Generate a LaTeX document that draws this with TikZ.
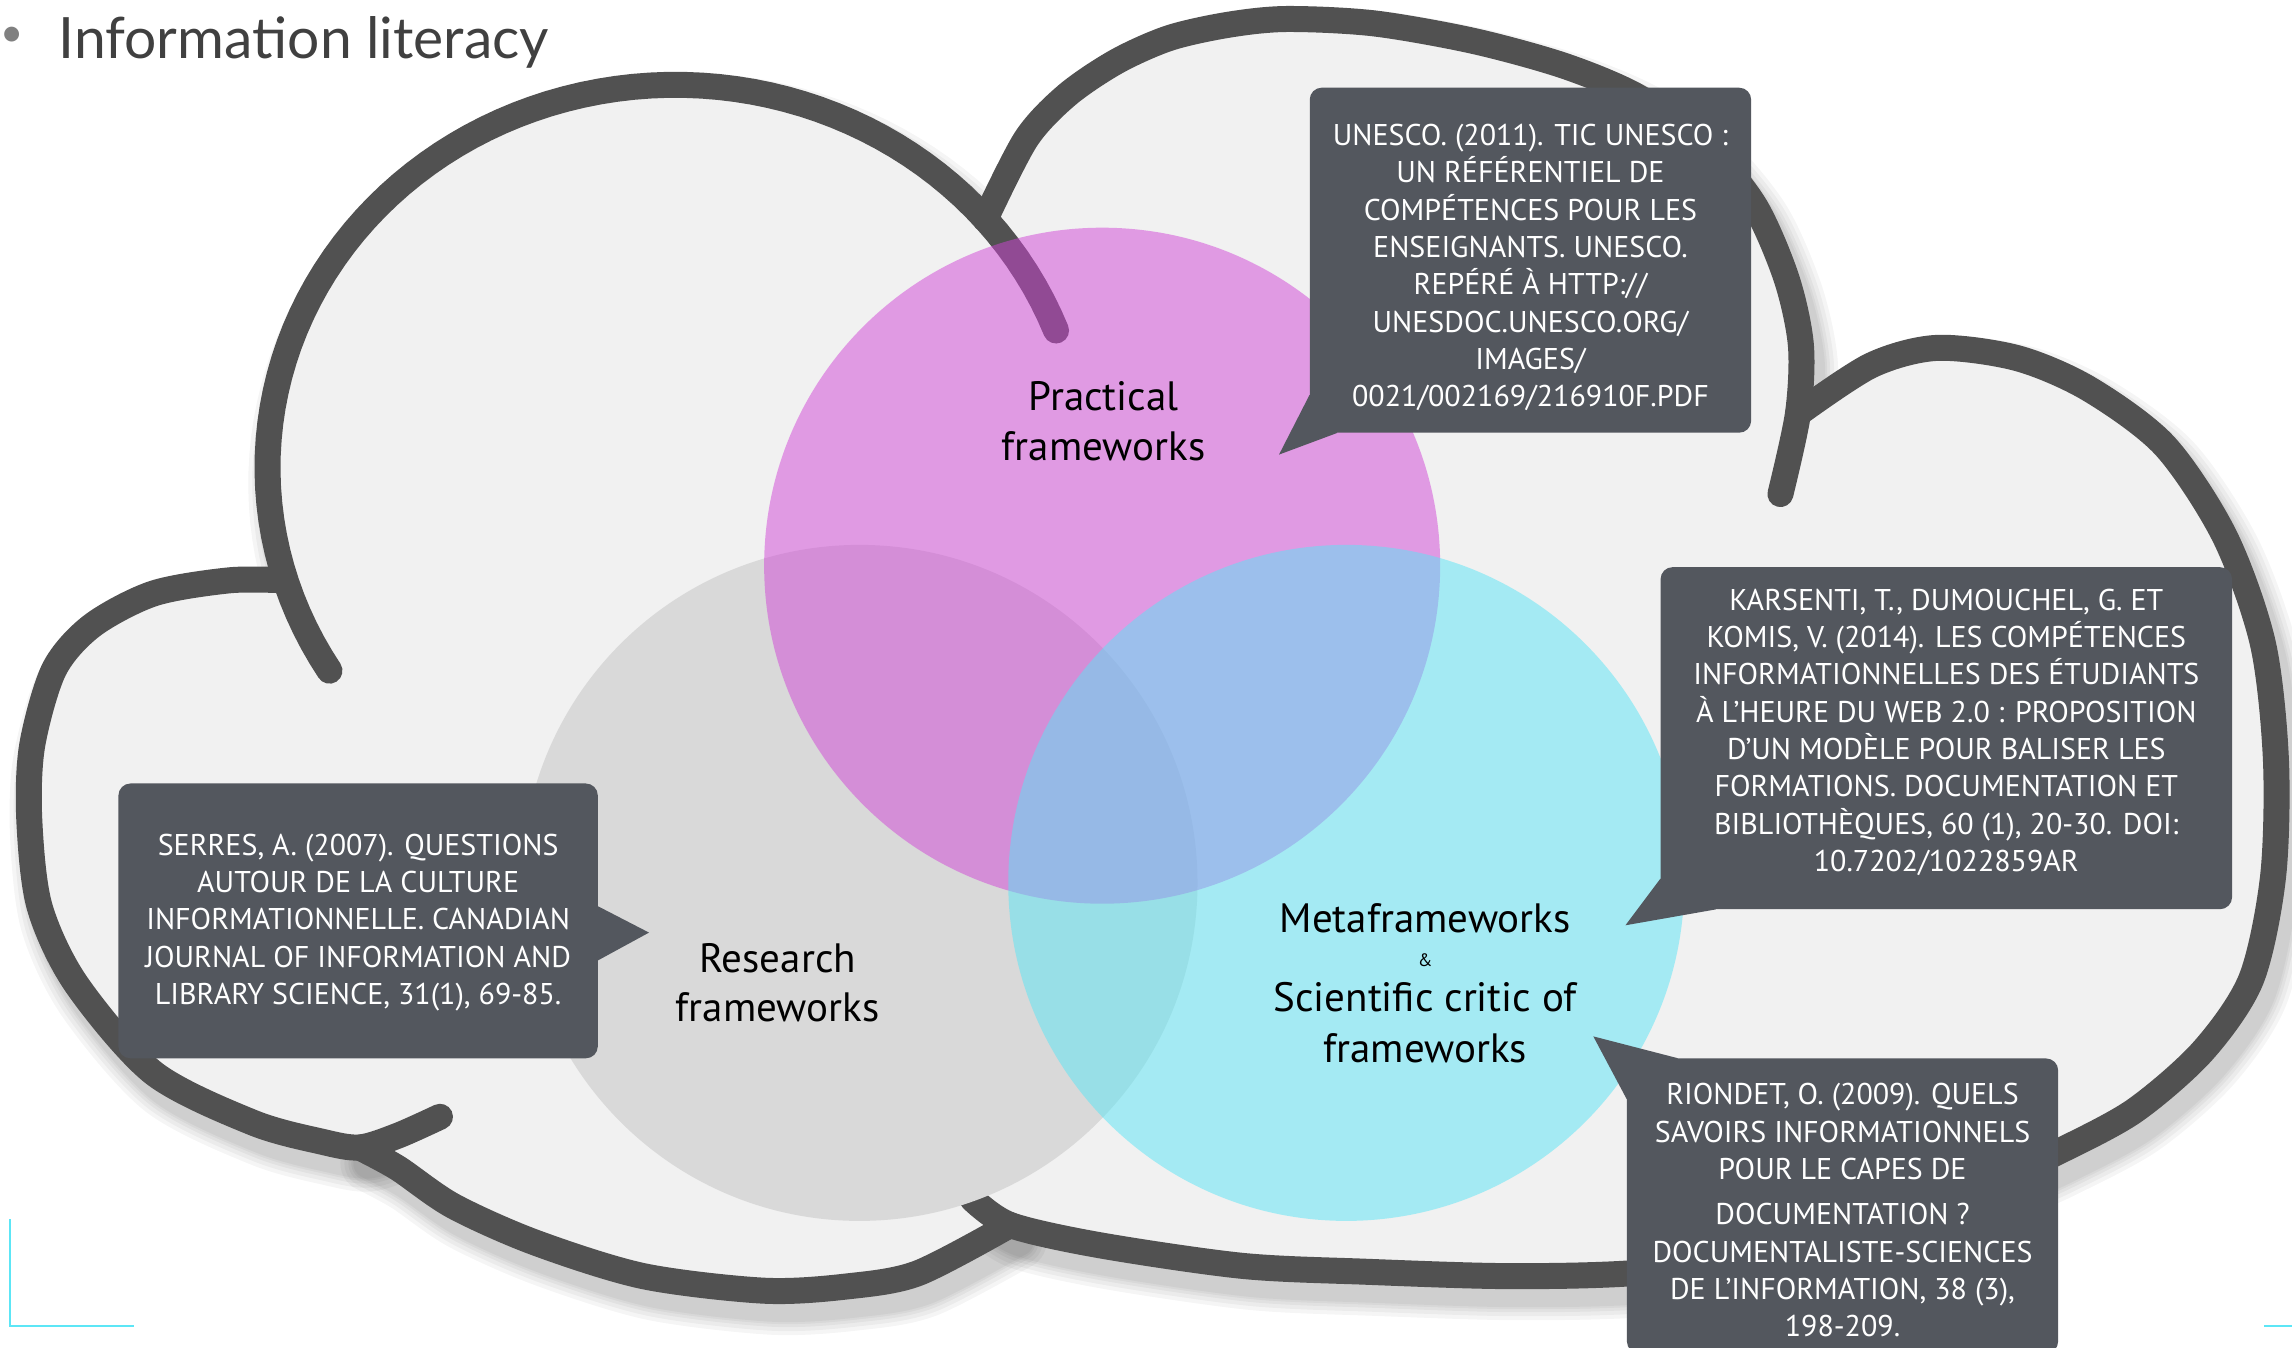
\documentclass[tikz,border=0pt]{standalone}
\usepackage{fontspec}
\setmainfont{PT Sans}
\newfontfamily\titlefont{Lato}
\usetikzlibrary{calc}
\definecolor{cloudfill}{HTML}{F1F1F1}
\definecolor{cloudline}{HTML}{515151}
\definecolor{pinkc}{RGB}{209,69,215}
\definecolor{cyanc}{RGB}{89,229,245}
\definecolor{grayc}{HTML}{D9D9D9}
\definecolor{boxc}{HTML}{53575E}
\definecolor{cornerc}{HTML}{5CE6F6}
\definecolor{titlec}{HTML}{404040}
\newcommand\lobeA{plot[domain=148:339,samples=80,variable=\t] ({462+279*cos(\t)},{320+262*sin(\t)})}
\newcommand\lobeB{plot[smooth] coordinates {(1218,338) (1230,283) (1232,236) (1222,190) (1200,140) (1165,98) (1120,66) (1070,45) (1008,28) (940,16) (880,13) (840,17) (800,26) (764,42) (730,65) (702,95) (674,150)}}
\newcommand\lobeR{plot[smooth] coordinates {(665,820) (691,838) (753,852) (850,866) (934,870) (1030,873) (1117,871) (1220,860) (1300,835) (1370,805) (1408,788) (1460,760) (1507,719) (1540,670) (1555,600) (1557,520) (1548,440) (1522,367) (1481,305) (1429,266) (1380,245) (1325,238) (1280,250) (1230,283)}}
\newcommand\lobeM{plot[smooth] coordinates {(246,785) (272,799) (310,825) (366,850) (440,873) (523,883) (580,880) (628,871) (691,838)}}
\newcommand\lobeL{plot[smooth] coordinates {(194,397) (157,397) (105,406) (63,428) (37,458) (22,510) (20,560) (27,620) (52,673) (105,734) (173,768) (220,781) (246,785) (272,777) (301,764)}}
\begin{document}
\begin{tikzpicture}[x=1.4617pt,y=-1.4617pt,
  lobe/.style={draw=cloudline,line width=26pt,line cap=round,line join=round},
  shadowline/.style={draw=black,line cap=round,line join=round,draw opacity=0.04},
  venn/.style={circle,minimum size=676pt,inner sep=0pt,fill opacity=0.5},
  lbl/.style={anchor=base,inner sep=0pt,font=\fontsize{41}{50}\selectfont,text=black},
  refbox/.style={fill=boxc,rounded corners=12pt,inner sep=0pt},
  reftext/.style={text=white,align=center,inner sep=0pt,font=\fontsize{30}{37.3}\selectfont},
  cornerline/.style={draw=cornerc,line width=2.5pt}
]
\useasboundingbox[fill=white] (0,0) rectangle (1568,922);

% shadow
\begin{scope}[shift={(6,11)}]
\foreach \w in {56,48,40,34,30}{
  \draw[shadowline,line width=\w pt] \lobeA;
  \draw[shadowline,line width=\w pt] \lobeB;
  \draw[shadowline,line width=\w pt] \lobeR;
  \draw[shadowline,line width=\w pt] \lobeM;
  \draw[shadowline,line width=\w pt] \lobeL;
}
\end{scope}

% cloud fill
\fill[cloudfill] plot[domain=163:319.5,samples=60,variable=\t] ({462+279*cos(\t)},{320+262*sin(\t)})
 -- plot[smooth] coordinates {(674,150) (702,95) (730,65) (764,42) (800,26) (840,17) (880,13) (940,16) (1008,28) (1070,45) (1120,66) (1165,98) (1200,140) (1222,190) (1232,236) (1230,283)}
 -- plot[smooth] coordinates {(1230,283) (1280,250) (1325,238) (1380,245) (1429,266) (1481,305) (1522,367) (1548,440) (1557,520) (1555,600) (1540,670) (1507,719) (1460,760) (1408,788) (1370,805) (1300,835) (1220,860) (1117,871) (1030,873) (934,870) (850,866) (753,852) (691,838)}
 -- plot[smooth] coordinates {(691,838) (628,871) (580,880) (523,883) (440,873) (366,850) (310,825) (272,799) (246,785)}
 -- plot[smooth] coordinates {(246,785) (220,781) (173,768) (105,734) (52,673) (27,620) (20,560) (22,510) (37,458) (63,428) (105,406) (157,397) (194,397)} -- cycle;

% cloud outline
\draw[lobe] \lobeA;
\draw[lobe] \lobeB;
\draw[lobe] \lobeR;
\draw[lobe] \lobeM;
\draw[lobe] \lobeL;

% title
\node[anchor=base west,inner sep=0pt,text=titlec,font=\titlefont\fontsize{57}{60}\selectfont] (title) at (40,40) {Information literacy};
\node[anchor=center,inner sep=0pt,text=gray,font=\titlefont\fontsize{40}{44}\selectfont] (bullet) at (8,25) {•};

% venn circles
\node[venn,fill=grayc,fill opacity=1] (research) at (588,604) {};
\node[venn,fill=pinkc] (practical) at (754,387) {};
\node[venn,fill=cyanc] (meta) at (921,604) {};

% labels
\node[lbl] (p1) at (755,281) {Practical};
\node[lbl] (p2) at (755,315) {frameworks};
\node[lbl] (r1) at (532,665) {Research};
\node[lbl] (r2) at (532,699) {frameworks};
\node[lbl] (m1) at (975,638) {Metaframeworks};
\node[lbl,font=\fontsize{18}{20}\selectfont] (m2) at (975,661) {\&};
\node[lbl] (m3) at (975,692) {Scientific critic of};
\node[lbl] (m4) at (975,727) {frameworks};

% callouts
\node[refbox,minimum width=441.4pt,minimum height=345pt] (unesco) at (1047,178) {};
\fill[boxc] ($(unesco.south west)+(0,-26)$) -- (875,311) -- ($(unesco.south west)+(19,0)$) -- cycle;
\node[reftext] (unescotext) at ($(unesco.center)+(0,5)$)
 {UNESCO. (2011). TIC UNESCO :\\UN RÉFÉRENTIEL DE\\COMPÉTENCES POUR LES\\ENSEIGNANTS. UNESCO.\\REPÉRÉ À HTTP://\\UNESDOC.UNESCO.ORG/\\IMAGES/\\0021/002169/216910F.PDF};

\node[refbox,minimum width=571.5pt,minimum height=342pt] (karsenti) at (1331.5,505) {};
\fill[boxc] ($(karsenti.south west)+(0,-21)$) -- (1112,633) -- ($(karsenti.south west)+(38,0)$) -- cycle;
\node[reftext] (karsentitext) at ($(karsenti.center)+(0,-4)$)
 {KARSENTI, T., DUMOUCHEL, G. ET\\KOMIS, V. (2014). LES COMPÉTENCES\\INFORMATIONNELLES DES ÉTUDIANTS\\À L’HEURE DU WEB 2.0 : PROPOSITION\\D’UN MODÈLE POUR BALISER LES\\FORMATIONS. DOCUMENTATION ET\\BIBLIOTHÈQUES, 60 (1), 20-30. DOI:\\10.7202/1022859AR};

\node[refbox,minimum width=479.4pt,minimum height=274.8pt] (serres) at (245,630) {};
\fill[boxc] ($(serres.east)+(0,-10)$) -- (444,638) -- ($(serres.east)+(0,27)$) -- cycle;
\node[reftext] (serrestext) at ($(serres.center)+(0,1)$)
 {SERRES, A. (2007). QUESTIONS\\AUTOUR DE LA CULTURE\\INFORMATIONNELLE. CANADIAN\\JOURNAL OF INFORMATION AND\\LIBRARY SCIENCE, 31(1), 69-85.};

\node[refbox,minimum width=431.2pt,minimum height=295pt] (riondet) at (1260.5,825) {};
\fill[boxc] ($(riondet.north west)+(35,0)$) -- (1090,709) -- ($(riondet.north west)+(0,28)$) -- cycle;
\node[reftext] (riondettext) at ($(riondet.center)+(0,3)$)
 {RIONDET, O. (2009). QUELS\\SAVOIRS INFORMATIONNELS\\POUR LE CAPES DE\\[8pt]DOCUMENTATION ?\\DOCUMENTALISTE-SCIENCES\\DE L’INFORMATION, 38 (3),\\198-209.};

% corner marks
\draw[cornerline] (7,834) -- (7,907) -- (92,907);
\draw[cornerline] (1549,907) -- (1568,907);
\end{tikzpicture}
\end{document}
